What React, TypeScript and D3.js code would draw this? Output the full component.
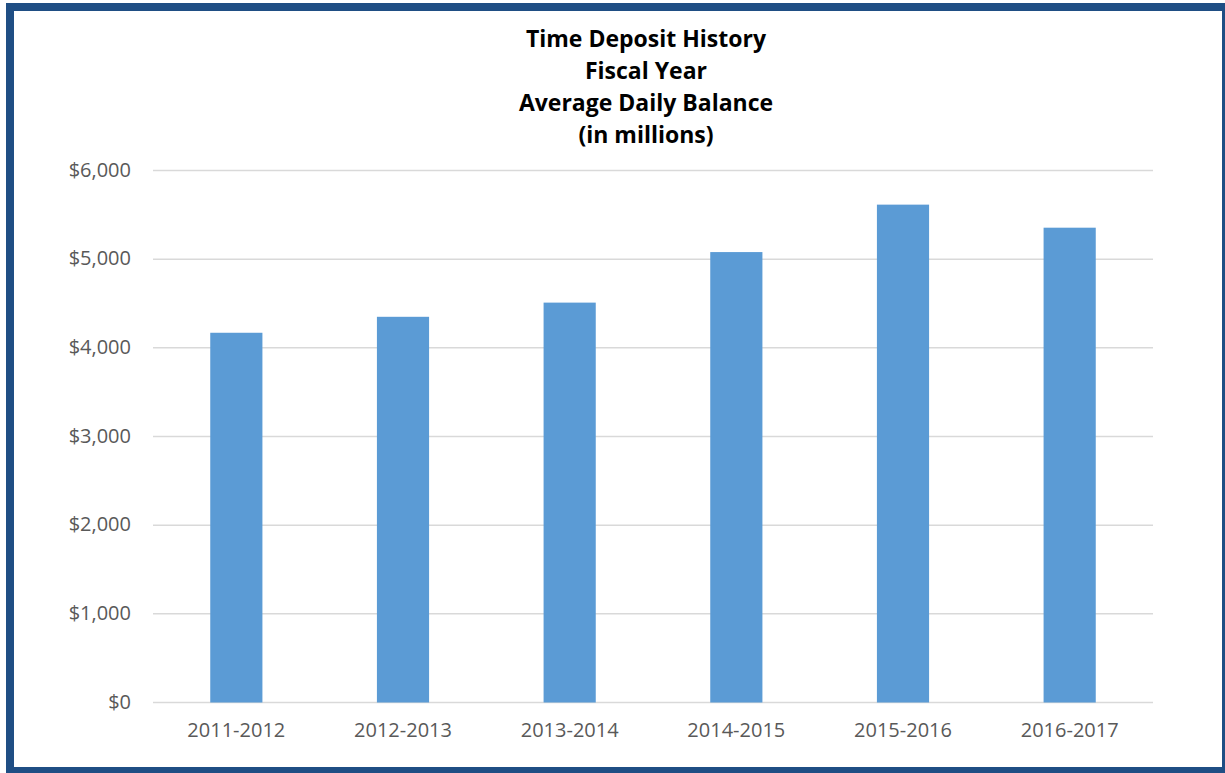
import React from "react";
import * as d3 from "d3";

const categories = ["2011-2012", "2012-2013", "2013-2014", "2014-2015", "2015-2016", "2016-2017"];
const balances = [4170, 4350, 4510, 5080, 5615, 5355];
const yTicks = [0, 1000, 2000, 3000, 4000, 5000, 6000];
const titleLines = ["Time Deposit History", "Fiscal Year", "Average Daily Balance", "(in millions)"];

const W = 1225;
const H = 773;
const plot = { left: 153, right: 1153, top: 170.5, bottom: 702.5 };

export default function App() {
  const x = d3
    .scaleBand<string>()
    .domain(categories)
    .range([plot.left, plot.right])
    .paddingInner(0.687)
    .paddingOuter(0.3435);
  const y = d3.scaleLinear().domain([0, 6000]).range([plot.bottom, plot.top]);
  const fmt = (v: number) => "$" + d3.format(",")(v);
  const font = "'Open Sans', Lato, sans-serif";

  return (
    <svg
      width={W}
      height={H}
      style={{ position: "absolute", left: 0, top: 0, display: "block" }}
    >
      <rect x={0} y={0} width={W} height={H} fill="#ffffff" />
      <rect x={10} y={7} width={1216} height={764} fill="#ffffff" stroke="#1f4e84" strokeWidth={8} />
      {titleLines.map((t, i) => (
        <text
          key={t}
          x={646}
          y={46.5 + i * 32.3}
          textAnchor="middle"
          fontFamily={font}
          fontWeight="bold"
          fontSize={23}
          fill="#000000"
        >
          {t}
        </text>
      ))}
      {yTicks.map((t) => (
        <g key={t}>
          <line
            x1={plot.left}
            x2={plot.right}
            y1={y(t)}
            y2={y(t)}
            stroke="#d9d9d9"
            strokeWidth={1.5}
          />
          <text
            x={131}
            y={y(t) + 6}
            textAnchor="end"
            fontFamily={font}
            fontSize={20}
            fill="#595959"
          >
            {fmt(t)}
          </text>
        </g>
      ))}
      {categories.map((c, i) => (
        <g key={c}>
          <rect
            x={x(c)}
            y={y(balances[i])}
            width={x.bandwidth()}
            height={y(0) - y(balances[i])}
            fill="#5b9bd5"
          />
          <text
            x={(x(c) as number) + x.bandwidth() / 2}
            y={736.5}
            textAnchor="middle"
            fontFamily={font}
            fontSize={20}
            fill="#595959"
          >
            {c}
          </text>
        </g>
      ))}
    </svg>
  );
}
